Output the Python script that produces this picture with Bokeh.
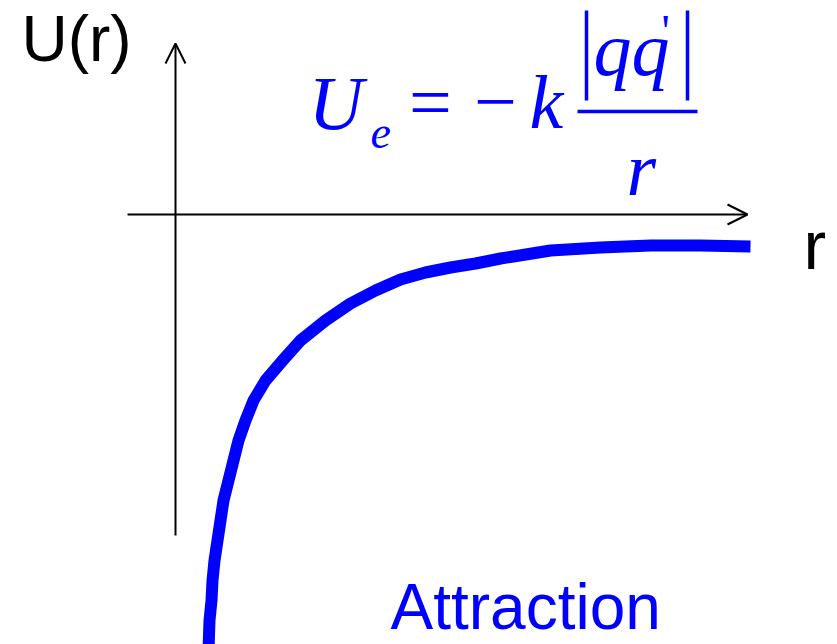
from bokeh.plotting import figure
from bokeh.models import Range1d, Arrow, OpenHead
from bokeh.core.properties import value
from bokeh.embed import file_html
from bokeh.resources import INLINE

# Potential energy curve (attraction)
r_vals = [33, 34, 36, 37, 39, 42, 45, 48, 53, 58, 63, 70, 78, 90, 108, 125, 150, 175,
          200, 225, 250, 275, 300, 325, 375, 425, 475, 525, 575]
u_vals = [-436, -406, -386, -366, -346, -326, -306, -286, -266, -246, -226, -206, -186,
          -166, -145, -126, -106, -89, -76, -65, -58, -53, -49, -44, -36, -33, -31, -31, -32]

# axis extents (data units)
x_axis_ext = [-48, 572]
y_axis_ext = [-321, 171]

BLUE = "#0000ff"
W, H = 837, 644
K = 0.38  # baseline compensation (fraction of font size)

p = figure(width=W, height=H, output_backend="svg", toolbar_location=None,
           x_range=Range1d(-175, 662), y_range=Range1d(-430, 214),
           x_axis_location=None, y_axis_location=None, min_border=0,
           background_fill_color="white", border_fill_color="white")
p.outline_line_color = None
p.xgrid.grid_line_color = None
p.ygrid.grid_line_color = None

# axes with open arrow heads
p.add_layout(Arrow(end=OpenHead(size=20, line_width=2, line_color="black"),
                   x_start=0, y_start=y_axis_ext[0], x_end=0, y_end=y_axis_ext[1],
                   line_width=2, line_color="black"))
p.add_layout(Arrow(end=OpenHead(size=20, line_width=2, line_color="black"),
                   x_start=x_axis_ext[0], y_start=0, x_end=x_axis_ext[1], y_end=0,
                   line_width=2, line_color="black"))

# curve
p.line(r_vals, u_vals, line_width=12, line_color=BLUE, line_cap="butt", line_join="round")

sans = value("Liberation Sans")
serif = value("Liberation Serif")


def txt(x, y, s, size, font, color, style="normal", align="left"):
    p.text(x=[x], y=[y + K * size], text=[s], text_font=font, text_font_style=style,
           text_font_size=f"{size}px", text_color=color, text_baseline="alphabetic",
           text_align=align)


# axis labels
txt(-154, 151, "U(r)", 64, sans, "black")
txt(628, -56, "r", 68, sans, "black")
txt(215, -417, "Attraction", 64, sans, BLUE)

# formula U_e = -k |qq'| / r
txt(133, 83, "U", 76, serif, BLUE, "italic")
txt(195, 65, "e", 46, serif, BLUE, "italic")
txt(255, 84, "=", 76, serif, BLUE, align="center")
txt(320, 84, "\u2212", 76, serif, BLUE, align="center")
txt(354, 84, "k", 76, serif, BLUE, "italic")
txt(418, 137, "qq", 76, serif, BLUE, "italic")
txt(486, 166, "'", 46, serif, BLUE)
txt(451, 17, "r", 76, serif, BLUE, "italic")
# fraction bar and absolute value bars
p.segment(x0=[402, 411, 512], y0=[103, 204, 204], x1=[522, 411, 512], y1=[103, 114, 114],
          line_color=BLUE, line_width=3.5)

open("out.html", "w").write(file_html(p, INLINE))
